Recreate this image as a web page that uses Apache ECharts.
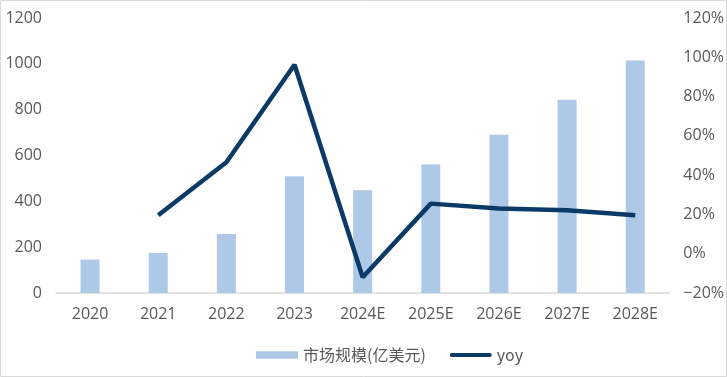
<!DOCTYPE html>
<html><head><meta charset="utf-8">
<script src="https://cdn.jsdelivr.net/npm/echarts@6/dist/echarts.min.js"></script>
<style>html,body{margin:0;padding:0;background:#fff}#c{width:727px;height:377px}</style>
</head><body><div id="c"></div>
<script>
var categories = ['2020','2021','2022','2023','2024E','2025E','2026E','2027E','2028E'];
var marketSize = [146, 175, 258, 509, 448, 561, 691, 843, 1015];
var yoy = [null, 19.6, 46.6, 96.2, -12.0, 25.5, 23.0, 22.1, 19.6];
var leftTicks = [0, 200, 400, 600, 800, 1000, 1200];
var rightTicks = [-20, 0, 20, 40, 60, 80, 100, 120];

var chart = echarts.init(document.getElementById('c'));
var labelFont = {color:'#595959', fontSize:16, fontFamily:'"Open Sans", "Noto Sans CJK SC", sans-serif'};
chart.setOption({
  animation:false,
  graphic:[{type:'rect', shape:{x:0.5,y:0.5,width:726,height:376}, style:{fill:'none', stroke:'#d9d9d9', lineWidth:1}, silent:true}],
  grid:{left:56,right:56,top:18,bottom:84},
  legend:{
    top:342, left:251, itemGap:24, itemWidth:42, itemHeight:8,
    textStyle:{color:'#595959', fontSize:16, fontFamily:'"Noto Sans CJK SC", sans-serif'},
    data:[
      {name:'市场规模(亿美元)', icon:'path://M0,0L40,0L40,7L0,7Z', textStyle:{width:146}},
      {name:'yoy', icon:'path://M2,0L42,0A2,2 0 0 1 42,4L2,4A2,2 0 0 1 2,0Z', itemStyle:{color:'#0b3a66'}}
    ]
  },
  xAxis:{type:'category', data:categories,
    axisLine:{lineStyle:{color:'#d9d9d9', width:1.5}}, axisTick:{show:false},
    axisLabel:Object.assign({margin:13}, labelFont)},
  yAxis:[
    {type:'value', min:leftTicks[0], max:leftTicks[leftTicks.length-1], interval:200,
     splitLine:{show:false}, axisLine:{show:false}, axisTick:{show:false},
     axisLabel:Object.assign({margin:14, formatter:function(v){return String(v);}}, labelFont)},
    {type:'value', min:rightTicks[0], max:rightTicks[rightTicks.length-1], interval:20,
     splitLine:{show:false}, axisLine:{show:false}, axisTick:{show:false},
     axisLabel:Object.assign({margin:14, formatter:function(v){return (v<0?'\u2212'+(-v):v)+'%';}}, labelFont)}
  ],
  series:[
    {name:'市场规模(亿美元)', type:'bar', data:marketSize, barWidth:19, itemStyle:{color:'#aec8e8'}},
    {name:'yoy', type:'line', yAxisIndex:1, data:yoy, symbol:'none', lineStyle:{color:'#0b3a66', width:4.5}, itemStyle:{color:'#0b3a66'}}
  ]
});
</script></body></html>
